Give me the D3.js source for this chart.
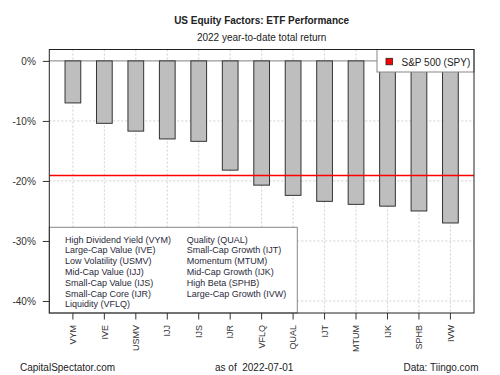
<!DOCTYPE html>
<html>
<head>
<meta charset="utf-8">
<script src="https://cdn.jsdelivr.net/npm/d3@7"></script>
<style>
  body { margin: 0; background: #fff; }
  svg { font-family: "Liberation Sans", Arial, sans-serif; }
</style>
</head>
<body>
<svg id="chart" width="500" height="375"></svg>
<script>
const tickers = ["VYM","IVE","USMV","IJJ","IJS","IJR","VFLQ","QUAL","IJT","MTUM","IJK","SPHB","IVW"];
const names = ["High Dividend Yield","Large-Cap Value","Low Volatility","Mid-Cap Value","Small-Cap Value",
  "Small-Cap Core","Liquidity","Quality","Small-Cap Growth","Momentum","Mid-Cap Growth","High Beta","Large-Cap Growth"];
const returns = [-7.0, -10.4, -11.7, -13.0, -13.4, -18.2, -20.7, -22.4, -23.4, -23.9, -24.2, -25.0, -27.0];
const spy = -19.1;
const yTicks = [0, -10, -20, -30, -40];

const svg = d3.select("#chart");
const plotLeft = 49.3, plotRight = 474, plotTop = 49.5, plotBottom = 313;

const x = d3.scaleBand()
    .domain(tickers)
    .range([plotLeft, plotRight])
    .paddingInner(0.5)
    .paddingOuter(0.5);

const y = d3.scaleLinear()
    .domain([1.9, -42])
    .range([plotTop, plotBottom]);

//titles
svg.append("text")
    .attr("x", (plotLeft + plotRight) / 2)
    .attr("y", 23.5)
    .attr("text-anchor", "middle")
    .attr("font-size", 10)
    .attr("font-weight", "bold")
    .attr("fill", "#222")
    .text("US Equity Factors: ETF Performance");

svg.append("text")
    .attr("x", (plotLeft + plotRight) / 2)
    .attr("y", 40.5)
    .attr("text-anchor", "middle")
    .attr("font-size", 10)
    .attr("fill", "#222")
    .text("2022 year-to-date total return");

//grid
const grid = svg.append("g")
    .attr("stroke", "#cfcfcf")
    .attr("stroke-dasharray", "2,2")
    .attr("stroke-width", 1);

grid.selectAll(".vgrid")
    .data(tickers)
    .enter().append("line")
    .attr("x1", d => x(d) + x.bandwidth() / 2)
    .attr("x2", d => x(d) + x.bandwidth() / 2)
    .attr("y1", plotTop)
    .attr("y2", plotBottom);

grid.selectAll(".hgrid")
    .data(yTicks.filter(d => d !== 0))
    .enter().append("line")
    .attr("x1", plotLeft)
    .attr("x2", plotRight)
    .attr("y1", d => y(d))
    .attr("y2", d => y(d));

//zero line
svg.append("line")
    .attr("x1", plotLeft)
    .attr("x2", plotRight)
    .attr("y1", y(0))
    .attr("y2", y(0))
    .attr("stroke", "#808080")
    .attr("stroke-width", 1);

//bars
svg.selectAll(".bar")
    .data(returns)
    .enter().append("rect")
    .attr("class", "bar")
    .attr("x", (d, i) => x(tickers[i]))
    .attr("y", y(0))
    .attr("width", x.bandwidth())
    .attr("height", d => y(d) - y(0))
    .attr("fill", "#bebebe")
    .attr("stroke", "#333")
    .attr("stroke-width", 1);

//spy line
svg.append("line")
    .attr("x1", plotLeft)
    .attr("x2", plotRight)
    .attr("y1", y(spy))
    .attr("y2", y(spy))
    .attr("stroke", "#ff0000")
    .attr("stroke-width", 1.6);

//legend top right
let lg = svg.append("g");
lg.append("rect")
    .attr("x", 377)
    .attr("y", plotTop)
    .attr("width", plotRight - 377)
    .attr("height", 22.5)
    .attr("fill", "#fff")
    .attr("stroke", "#888");
lg.append("rect")
    .attr("x", 386)
    .attr("y", 58.3)
    .attr("width", 6.5)
    .attr("height", 6.5)
    .attr("fill", "#ff0000")
    .attr("stroke", "#222")
    .attr("stroke-width", 0.8);
lg.append("text")
    .attr("x", 401.5)
    .attr("y", 65.8)
    .attr("font-size", 10)
    .attr("fill", "#222")
    .text("S&P 500 (SPY)");

//legend bottom left
let lb = svg.append("g");
lb.append("rect")
    .attr("x", plotLeft)
    .attr("y", 227.3)
    .attr("width", 297.3 - plotLeft)
    .attr("height", plotBottom - 227.3)
    .attr("fill", "#fff")
    .attr("stroke", "#888");
lb.selectAll("text")
    .data(tickers)
    .enter().append("text")
    .attr("x", (d, i) => i < 7 ? 65 : 186.7)
    .attr("y", (d, i) => 242.5 + (i < 7 ? i : i - 7) * 10.8)
    .attr("font-size", 9)
    .attr("fill", "#2a2a3a")
    .text((d, i) => names[i] + " (" + d + ")");

//plot box
svg.append("rect")
    .attr("x", plotLeft)
    .attr("y", plotTop)
    .attr("width", plotRight - plotLeft)
    .attr("height", plotBottom - plotTop)
    .attr("fill", "none")
    .attr("stroke", "#222")
    .attr("stroke-width", 1);

//y axis
let yAxis = svg.append("g")
    .attr("transform", `translate(${plotLeft},0)`)
    .call(d3.axisLeft(y).tickValues(yTicks).tickSize(6.5).tickPadding(7).tickFormat(d => d + "%"));
yAxis.select(".domain").remove();
yAxis.selectAll("line").attr("stroke", "#333");
yAxis.selectAll("text")
    .attr("font-size", 10)
    .attr("font-family", "Liberation Sans, Arial, sans-serif")
    .attr("fill", "#333");

//x axis
let xAxis = svg.append("g")
    .attr("transform", `translate(0,${plotBottom})`)
    .call(d3.axisBottom(x).tickSize(6.5).tickPadding(6));
xAxis.select(".domain").remove();
xAxis.selectAll("line").attr("stroke", "#333");
xAxis.selectAll("text")
    .attr("font-size", 9)
    .attr("font-family", "Liberation Sans, Arial, sans-serif")
    .attr("fill", "#333")
    .attr("transform", "rotate(-90)")
    .attr("text-anchor", "end")
    .attr("dy", "0.35em")
    .attr("x", -12)
    .attr("y", 0);

//footer
const footer = [["CapitalSpectator.com", 20, "start"], ["as of  2022-07-01", 215, "start"], ["Data: Tiingo.com", 478.5, "end"]];
svg.selectAll(".footer")
    .data(footer)
    .enter().append("text")
    .attr("class", "footer")
    .attr("x", d => d[1])
    .attr("y", 371)
    .attr("text-anchor", d => d[2])
    .attr("font-size", 10)
    .attr("fill", "#222")
    .style("white-space", "pre")
    .text(d => d[0]);
</script>
</body>
</html>
